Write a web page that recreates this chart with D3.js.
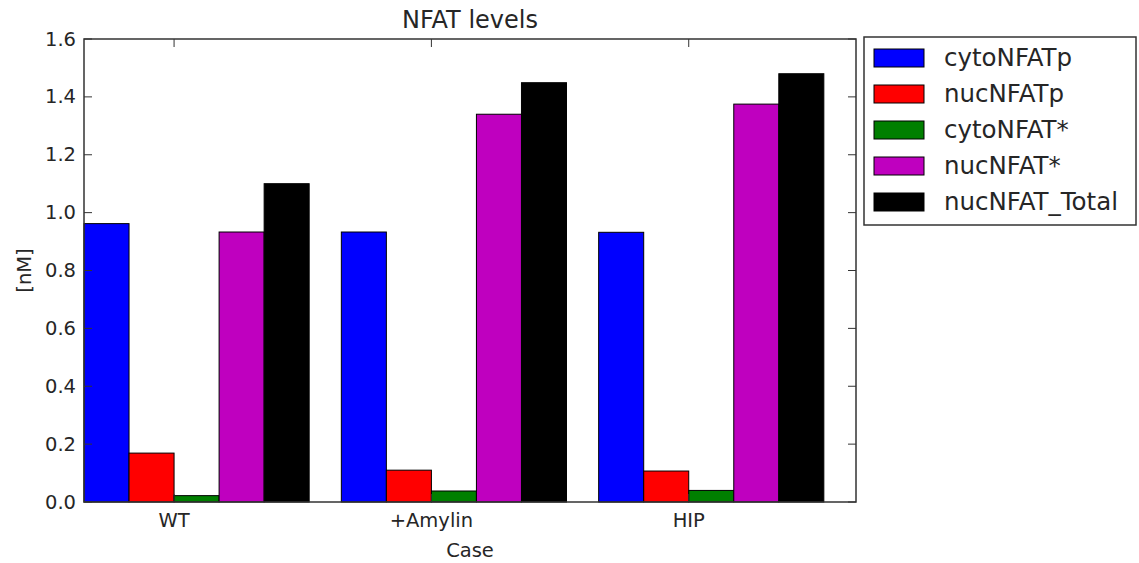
<!DOCTYPE html>
<html>
<head>
<meta charset="utf-8">
<script src="https://cdn.jsdelivr.net/npm/d3@7/dist/d3.min.js"></script>
<style>
  body { margin: 0; background: #fff; }
  text { font-family: 'DejaVu Sans', sans-serif; fill: #262626; }
</style>
</head>
<body>
<svg id="chart" width="1139" height="563"></svg>
<script>
const cases = ['WT', '+Amylin', 'HIP'];
const seriesNames = ['cytoNFATp', 'nucNFATp', 'cytoNFAT*', 'nucNFAT*', 'nucNFAT_Total'];
const seriesColors = ['#0000ff', '#ff0000', '#007f00', '#bf00bf', '#000000'];
const cytoNFATp = [0.962, 0.933, 0.932];
const nucNFATp = [0.169, 0.110, 0.107];
const cytoNFATstar = [0.022, 0.038, 0.040];
const nucNFATstar = [0.933, 1.340, 1.375];
const nucNFATtotal = [1.100, 1.449, 1.480];
const yTicks = [0.0, 0.2, 0.4, 0.6, 0.8, 1.0, 1.2, 1.4, 1.6];

const values = [cytoNFATp, nucNFATp, cytoNFATstar, nucNFATstar, nucNFATtotal];
const barWidth = 0.175;

const svg = d3.select('#chart');
const plotLeft = 84, plotRight = 856, plotTop = 39, plotBottom = 502;

const x = d3.scaleLinear().domain([0, 3]).range([plotLeft, plotRight]);
const y = d3.scaleLinear().domain([0, 1.6]).range([plotBottom, plotTop]);

// bars
values.forEach((vals, s) => {
  svg.append('g')
    .selectAll('rect')
    .data(vals)
    .join('rect')
    .attr('x', (d, i) => x(i + s * barWidth))
    .attr('y', d => y(d))
    .attr('width', x(barWidth) - x(0))
    .attr('height', d => y(0) - y(d))
    .attr('fill', seriesColors[s])
    .attr('stroke', '#000')
    .attr('stroke-width', 1);
});

// frame
svg.append('rect')
  .attr('x', plotLeft).attr('y', plotTop)
  .attr('width', plotRight - plotLeft).attr('height', plotBottom - plotTop)
  .attr('fill', 'none').attr('stroke', '#333').attr('stroke-width', 1.5);

const tickLen = 8;
// y ticks (inside, left and right)
const yg = svg.append('g');
yTicks.forEach(t => {
  yg.append('line').attr('x1', plotLeft).attr('x2', plotLeft + tickLen)
    .attr('y1', y(t)).attr('y2', y(t)).attr('stroke', '#333');
  yg.append('line').attr('x1', plotRight).attr('x2', plotRight - tickLen)
    .attr('y1', y(t)).attr('y2', y(t)).attr('stroke', '#333');
  yg.append('text').attr('x', plotLeft - 8).attr('y', y(t))
    .attr('text-anchor', 'end').attr('dominant-baseline', 'central')
    .style('font-size', '19.5px').text(t.toFixed(1));
});

// x ticks at ind + 2*width
const xg = svg.append('g');
cases.forEach((c, i) => {
  const px = x(i + 2 * barWidth);
  xg.append('line').attr('x1', px).attr('x2', px)
    .attr('y1', plotTop).attr('y2', plotTop + tickLen).attr('stroke', '#333');
  xg.append('line').attr('x1', px).attr('x2', px)
    .attr('y1', plotBottom).attr('y2', plotBottom - tickLen).attr('stroke', '#333');
  xg.append('text').attr('x', px).attr('y', plotBottom + 25)
    .attr('text-anchor', 'middle').style('font-size', '19.5px').text(c);
});

// titles
svg.append('text').attr('x', (plotLeft + plotRight) / 2).attr('y', 28)
  .attr('text-anchor', 'middle').style('font-size', '24px').text('NFAT levels');
svg.append('text').attr('x', (plotLeft + plotRight) / 2).attr('y', 557)
  .attr('text-anchor', 'middle').style('font-size', '19.5px').text('Case');
svg.append('text')
  .attr('transform', `translate(31, ${(plotTop + plotBottom) / 2}) rotate(-90)`)
  .attr('text-anchor', 'middle').style('font-size', '19.5px').text('[nM]');

// legend
const lg = svg.append('g');
lg.append('rect').attr('x', 864).attr('y', 37).attr('width', 272).attr('height', 188)
  .attr('fill', '#fff').attr('stroke', '#333').attr('stroke-width', 1.5);
seriesNames.forEach((name, s) => {
  const ry = 49 + s * 36;
  lg.append('rect').attr('x', 874).attr('y', ry).attr('width', 50).attr('height', 18)
    .attr('fill', seriesColors[s]).attr('stroke', '#000');
  lg.append('text').attr('x', 944).attr('y', ry + 17)
    .style('font-size', '24.5px').text(name);
});
</script>
</body>
</html>
